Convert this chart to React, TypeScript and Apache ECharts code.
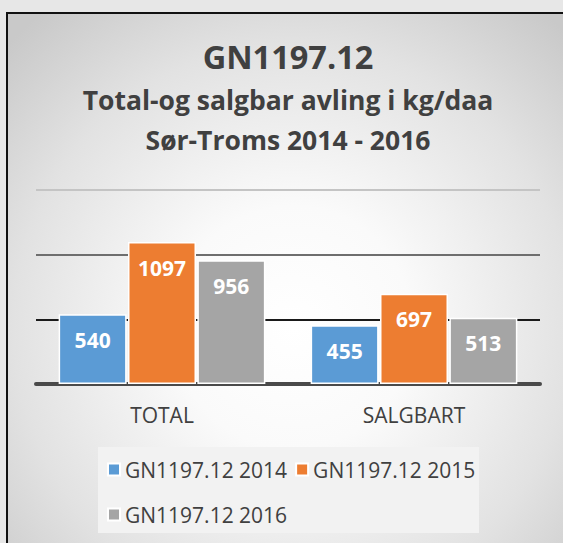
import React, { useEffect, useRef } from "react";
import * as echarts from "echarts";

const categories = ["TOTAL", "SALGBART"];
const seriesNames = ["GN1197.12 2014", "GN1197.12 2015", "GN1197.12 2016"];
const values2014 = [540, 455];
const values2015 = [1097, 697];
const values2016 = [956, 513];
const colors = ["#5b9bd5", "#ed7d31", "#a5a5a5"];
const titleLines = ["GN1197.12", "Total-og salgbar avling i kg/daa", "Sør-Troms 2014 - 2016"];

export default function App() {
  const ref = useRef<HTMLDivElement>(null);
  useEffect(() => {
    document.body.style.margin = "0";
    const chart = echarts.init(ref.current!, null, { renderer: "svg" });
    const font = "'Open Sans', Lato, sans-serif";
    const data = [values2014, values2015, values2016];
    chart.setOption({
      animation: false,
      backgroundColor: "transparent",
      title: [
        { text: titleLines[0], left: 288, top: 40, textAlign: "center", padding: 0,
          textStyle: { fontFamily: font, fontWeight: "bold", fontSize: 32.5, color: "#404040" } },
        { text: titleLines[1], left: 288, top: 86, textAlign: "center", padding: 0,
          textStyle: { fontFamily: font, fontWeight: "bold", fontSize: 26.5, color: "#404040" } },
        { text: titleLines[2], left: 288, top: 126, textAlign: "center", padding: 0,
          textStyle: { fontFamily: font, fontWeight: "bold", fontSize: 26.5, color: "#404040" } },
      ],
      graphic: [
        { type: "rect", shape: { x: 98, y: 447, width: 381, height: 86 }, style: { fill: "#f2f2f2" }, z: 0 },
      ],
      legend: [
        { data: [seriesNames[0], seriesNames[1]], left: 107, top: 459, itemWidth: 12, itemHeight: 12,
          itemGap: 8, icon: "rect", padding: 0,
          textStyle: { fontFamily: font, fontSize: 21, color: "#404040" } },
        { data: [seriesNames[2]], left: 107, top: 504, itemWidth: 12, itemHeight: 12,
          icon: "rect", padding: 0,
          textStyle: { fontFamily: font, fontSize: 21, color: "#404040" } },
      ],
      grid: { left: 36, right: 23, top: 190, bottom: 159 },
      xAxis: {
        type: "category",
        data: categories,
        axisLine: { lineStyle: { color: "#4a4a4a", width: 4 } },
        axisTick: { show: false },
        axisLabel: { fontFamily: font, fontSize: 21, color: "#404040", margin: 20 },
      },
      yAxis: {
        type: "value",
        min: 0,
        max: 1500,
        interval: 500,
        axisLabel: { show: false },
        axisLine: { show: false },
        axisTick: { show: false },
        splitLine: { lineStyle: { color: ["#4a4a4a", "#1a1a1a", "#6e6e6e", "#c4c4c4"], width: 2 } },
      },
      series: seriesNames.map((name, i) => ({
        name,
        type: "bar",
        data: data[i],
        barWidth: 68,
        barGap: "2%",
        itemStyle: { color: colors[i], borderColor: "#ffffff", borderWidth: 1.5 },
        label: {
          show: true,
          position: "insideTop",
          distance: 15,
          color: "#ffffff",
          fontFamily: font,
          fontWeight: "bold",
          fontSize: 21,
        },
      })),
    });
    return () => chart.dispose();
  }, []);
  return (
    <div style={{ position: "relative", width: 563, height: 543, background: "#e7e7e7", overflow: "hidden" }}>
      <div
        style={{
          position: "absolute",
          left: 6,
          top: 12,
          width: 570,
          height: 540,
          borderLeft: "2px solid #111",
          borderTop: "2px solid #111",
          background:
            "radial-gradient(ellipse 70% 75% at 50% 58%, #ffffff 0%, #fafafa 30%, #e2e2e2 70%, #c9c9c9 100%)",
        }}
      />
      <div ref={ref} style={{ position: "absolute", left: 0, top: 0, width: 563, height: 543 }} />
    </div>
  );
}
